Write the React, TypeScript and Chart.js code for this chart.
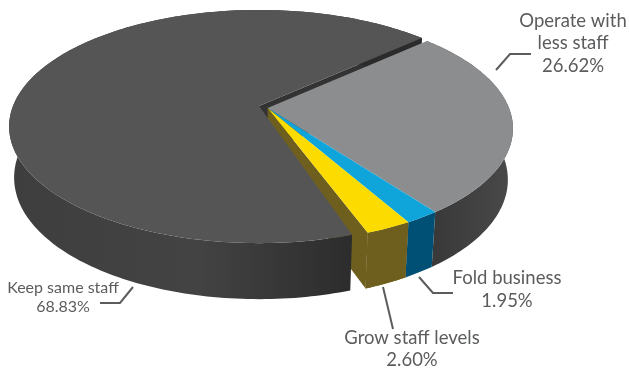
import React, { useEffect, useRef } from "react";
import { Chart, registerables } from "chart.js";

Chart.register(...registerables);

const categories = ["Operate with less staff", "Fold business", "Grow staff levels", "Keep same staff"];
const shares = [26.62, 1.95, 2.6, 68.83];
const topColors = ["#8c8d8f", "#0fa5da", "#fcdc00", "#555555"];
const wallColors = ["#3f3f40", "#004f74", "#6e5f1e", "#3c3c3c"];
// 1 = slice belongs to the group pulled out of the disc
const pulledOut = [1, 1, 1, 0];

// Slab geometry on the page
const APEX_X = 259;
const APEX_Y = 106;
const RX = 246;
const RY = 113;
const PERSPECTIVE = 0.176;
const PULL_U = 0.035;
const PULL_V = 0.018;
const PULL_SCALE = 0.978;
const SEAM_TRIM = 0.028;
const DEPTH = 50;
const DEPTH_SPREAD = 6;
const BASE_SHRINK = 0.98;

const textColor = "#5b5c5e";

type Pt = { x: number; y: number };

// Disc coordinates (u right, v towards the viewer) to page pixels
function project(u: number, v: number, down = false): Pt {
  const w = 1 - PERSPECTIVE * v;
  const x = (RX * u) / w;
  const y = APEX_Y + (RY * v) / w;
  return down
    ? { x: APEX_X + x * BASE_SHRINK, y: y + DEPTH + DEPTH_SPREAD * v }
    : { x: APEX_X + x, y };
}

function arcFrame(arc: any, index: number) {
  const { startAngle, endAngle } = arc.getProps(["startAngle", "endAngle"], true);
  const pulled = pulledOut[index];
  return {
    // The stationary slice leaves a thin seam where the pulled group meets it
    a0: startAngle + (pulled ? 0 : SEAM_TRIM),
    a1: endAngle,
    r: pulled ? PULL_SCALE : 1,
    ou: pulled * PULL_U,
    ov: pulled * PULL_V,
  };
}

function rim(f: any, down: boolean): Pt[] {
  const n = Math.max(4, Math.ceil((f.a1 - f.a0) / 0.02));
  const pts: Pt[] = [];
  for (let i = 0; i <= n; i++) {
    const a = f.a0 + ((f.a1 - f.a0) * i) / n;
    pts.push(project(f.ou + f.r * Math.cos(a), f.ov + f.r * Math.sin(a), down));
  }
  return pts;
}

function fillPoly(ctx: CanvasRenderingContext2D, pts: Pt[], fill: string | CanvasGradient) {
  ctx.beginPath();
  pts.forEach((p, i) => (i ? ctx.lineTo(p.x, p.y) : ctx.moveTo(p.x, p.y)));
  ctx.closePath();
  ctx.fillStyle = fill;
  ctx.fill();
}

function drawTop(ctx: CanvasRenderingContext2D, f: any, color: string) {
  fillPoly(ctx, [project(f.ou, f.ov), ...rim(f, false)], color);
}

function drawWall(ctx: CanvasRenderingContext2D, f: any, fill: string | CanvasGradient) {
  fillPoly(ctx, [...rim(f, false), ...rim(f, true).reverse()], fill);
}

function drawCutFace(ctx: CanvasRenderingContext2D, f: any, angle: number, fill: string) {
  const ou = f.ou + f.r * Math.cos(angle);
  const ov = f.ov + f.r * Math.sin(angle);
  fillPoly(
    ctx,
    [project(f.ou, f.ov), project(ou, ov), project(ou, ov, true), project(f.ou, f.ov, true)],
    fill
  );
}

const slabPlugin = {
  id: "slab",
  beforeDatasetDraw(chart: any) {
    const ctx: CanvasRenderingContext2D = chart.ctx;
    const frames = chart.getDatasetMeta(0).data.map(arcFrame);
    const [grey, blue, yellow, dark] = frames;

    const darkWall = ctx.createLinearGradient(0, 0, 360, 0);
    darkWall.addColorStop(0, "#3e3e3e");
    darkWall.addColorStop(0.55, "#434343");
    darkWall.addColorStop(1, "#2b2b2b");
    const greyWall = ctx.createLinearGradient(430, 0, 520, 0);
    greyWall.addColorStop(0, "#383839");
    greyWall.addColorStop(1, "#4b4b4c");

    // Faces exposed by the pull-out go down first, the stationary slice covers most of them
    drawCutFace(ctx, dark, dark.a1, "#333333");
    drawCutFace(ctx, yellow, yellow.a1, wallColors[2]);
    drawWall(ctx, yellow, wallColors[2]);
    drawWall(ctx, dark, darkWall);
    drawTop(ctx, dark, topColors[3]);
    drawWall(ctx, grey, greyWall);
    drawWall(ctx, blue, wallColors[1]);
    drawWall(ctx, yellow, wallColors[2]);
    drawTop(ctx, grey, topColors[0]);
    drawTop(ctx, blue, topColors[1]);
    drawTop(ctx, yellow, topColors[2]);
    return false;
  },
};

// Callout text blocks and their leaders
const callouts = [
  { lines: ["Operate with", "less staff", `${shares[0].toFixed(2)}%`], x: 573, y: 21, gap: 22.5, size: 18.5, leader: [[496, 70], [510, 54], [531, 54]] },
  { lines: ["Fold business", `${shares[1].toFixed(2)}%`], x: 507, y: 278, gap: 23, size: 18.5, leader: [[419, 277], [433, 293], [453, 293]] },
  { lines: ["Grow staff levels", `${shares[2].toFixed(2)}%`], x: 412, y: 338, gap: 22, size: 18.5, leader: [[383, 287], [393, 329]] },
  { lines: ["Keep same staff", `${shares[3].toFixed(2)}%`], x: 63, y: 288, gap: 19, size: 16, leader: [[100, 303], [120, 303], [133, 287]] },
];

const calloutPlugin = {
  id: "callouts",
  afterDraw(chart: any) {
    const ctx: CanvasRenderingContext2D = chart.ctx;
    ctx.save();
    ctx.textAlign = "center";
    ctx.textBaseline = "middle";
    ctx.fillStyle = textColor;
    ctx.strokeStyle = textColor;
    ctx.lineWidth = 2;
    for (const c of callouts) {
      ctx.font = `${c.size}px Lato`;
      c.lines.forEach((line, i) => ctx.fillText(line, c.x, c.y + i * c.gap));
      ctx.beginPath();
      c.leader.forEach(([x, y], i) => (i ? ctx.lineTo(x, y) : ctx.moveTo(x, y)));
      ctx.stroke();
    }
    ctx.restore();
  },
};

export default function App() {
  const ref = useRef<HTMLCanvasElement>(null);
  useEffect(() => {
    const chart = new Chart(ref.current!, {
      type: "pie",
      data: {
        labels: categories,
        datasets: [{ data: shares, backgroundColor: topColors, borderWidth: 0 }],
      },
      options: {
        animation: false,
        responsive: false,
        devicePixelRatio: 1,
        rotation: 47.8,
        plugins: { legend: { display: false }, tooltip: { enabled: false } },
      },
      plugins: [slabPlugin, calloutPlugin],
    } as any);
    return () => chart.destroy();
  }, []);
  return (
    <div style={{ position: "fixed", left: 0, top: 0, width: 630, height: 370, background: "#fff" }}>
      <canvas ref={ref} width={630} height={370} style={{ display: "block" }} />
    </div>
  );
}
